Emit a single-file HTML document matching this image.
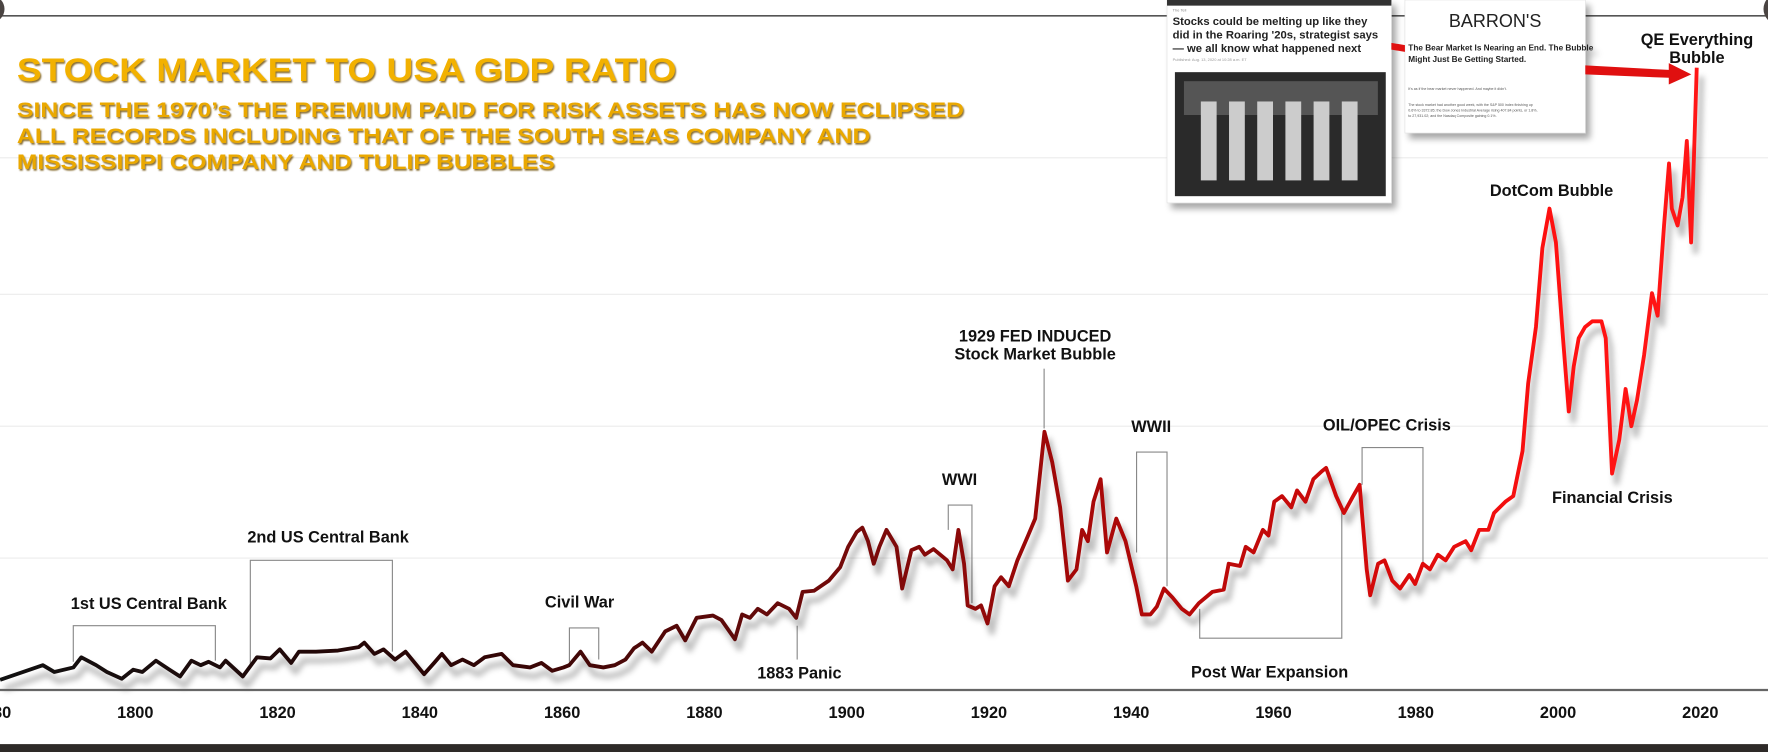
<!DOCTYPE html>
<html><head><meta charset="utf-8">
<style>
html,body{margin:0;padding:0;background:#fff;}
svg{display:block;}
text{font-family:"Liberation Sans",sans-serif;}
</style></head>
<body>
<svg id="chart" width="1768" height="752" viewBox="0 0 1568 667" preserveAspectRatio="none">
<defs>
<linearGradient id="lineGrad" gradientUnits="userSpaceOnUse" x1="0" y1="0" x2="1568" y2="0">
<stop offset="0" stop-color="#111"/>
<stop offset="0.25" stop-color="#2a0505"/>
<stop offset="0.45" stop-color="#6a0a0a"/>
<stop offset="0.62" stop-color="#a80808"/>
<stop offset="0.78" stop-color="#d40a0a"/>
<stop offset="0.88" stop-color="#ff1010"/>
<stop offset="1" stop-color="#ff1a1a"/>
</linearGradient>
<filter id="shadow" x="-5%" y="-5%" width="110%" height="120%">
<feGaussianBlur in="SourceAlpha" stdDeviation="3"/>
<feOffset dx="4" dy="5"/>
<feComponentTransfer><feFuncA type="linear" slope="0.35"/></feComponentTransfer>
<feMerge><feMergeNode/><feMergeNode in="SourceGraphic"/></feMerge>
</filter>
<filter id="lshadow" x="-5%" y="-10%" width="110%" height="130%"><feGaussianBlur stdDeviation="2.5"/></filter>
<filter id="tshadow"><feDropShadow dx="1" dy="1.5" stdDeviation="0.8" flood-color="#6b4a00" flood-opacity="0.8"/></filter>
</defs>
<rect x="0" y="0" width="1568" height="667" fill="#fff"/>
<g id="grid"></g>
<line x1="0" y1="14" x2="1568" y2="14" stroke="#555" stroke-width="1.5"/>
<circle cx="1578" cy="8" r="14" fill="#4a4442"/>
<circle cx="-8" cy="8" r="12" fill="#4a4442"/>

<g filter="url(#tshadow)">
<text x="15" y="72" font-size="29" font-weight="bold" fill="#f2b100" textLength="585" lengthAdjust="spacingAndGlyphs">STOCK MARKET TO USA GDP RATIO</text>
<text x="15" y="104" font-size="19" font-weight="bold" fill="#eaa800" textLength="840" lengthAdjust="spacingAndGlyphs">SINCE THE 1970’s THE PREMIUM PAID FOR RISK ASSETS HAS NOW ECLIPSED</text>
<text x="15" y="127" font-size="19" font-weight="bold" fill="#eaa800" textLength="757" lengthAdjust="spacingAndGlyphs">ALL RECORDS INCLUDING THAT OF THE SOUTH SEAS COMPANY AND</text>
<text x="15" y="150" font-size="19" font-weight="bold" fill="#eaa800" textLength="477" lengthAdjust="spacingAndGlyphs">MISSISSIPPI COMPANY AND TULIP BUBBLES</text>
</g>

<g id="brackets" fill="none" stroke="#888" stroke-width="1">
<polyline points="65,587 65,555 191,555 191,586"/>
<polyline points="222,590 222,497 348,497 348,578"/>
<polyline points="505,587 505,557 531,557 531,585"/>
<polyline points="707,555 707,585"/>
<polyline points="841,470 841,448 862,448 862,535"/>
<polyline points="926,327 926,380"/>
<polyline points="1008,490 1008,401 1035,401 1035,520"/>
<polyline points="1208,430 1208,397 1262,397 1262,500"/>
<polyline points="1064,540 1064,566 1190,566 1190,450"/>
</g>

<g font-size="14.5" font-weight="bold" fill="#111" text-anchor="middle">
<text x="132" y="540">1st US Central Bank</text>
<text x="291" y="481">2nd US Central Bank</text>
<text x="514" y="539">Civil War</text>
<text x="709" y="602">1883 Panic</text>
<text x="851" y="430">WWI</text>
<text x="918" y="303">1929 FED INDUCED</text>
<text x="918" y="319">Stock Market Bubble</text>
<text x="1021" y="383">WWII</text>
<text x="1230" y="382">OIL/OPEC Crisis</text>
<text x="1126" y="601">Post War Expansion</text>
<text x="1376" y="174">DotCom Bubble</text>
<text x="1430" y="446">Financial Crisis</text>
<text x="1505" y="40">QE Everything</text>
<text x="1505" y="56">Bubble</text>
</g>

<g id="series"></g>

<line x1="0" y1="612" x2="1568" y2="612" stroke="#666" stroke-width="2"/>
<g id="xticks" font-size="14.5" font-weight="bold" fill="#111" text-anchor="middle"></g>
<rect x="0" y="660" width="1568" height="8" fill="#2e2a28"/>

<g filter="url(#shadow)">
<rect x="1035" y="0" width="199" height="180" fill="#fff" stroke="#ddd" stroke-width="0.5"/>
<rect x="1035" y="0" width="199" height="5" fill="#333"/>
<text x="1040" y="10" font-size="3.5" fill="#888">The Tell</text>
<text x="1040" y="22" font-size="10" font-weight="bold" fill="#222">Stocks could be melting up like they</text>
<text x="1040" y="34" font-size="10" font-weight="bold" fill="#222">did in the Roaring '20s, strategist says</text>
<text x="1040" y="46" font-size="10" font-weight="bold" fill="#222">— we all know what happened next</text>
<text x="1040" y="54" font-size="3.5" fill="#999">Published: Aug. 13, 2020 at 10:28 a.m. ET</text>
<rect x="1042" y="64" width="187" height="110" fill="#2a2a2a"/>
<rect x="1050" y="72" width="172" height="30" fill="#555"/>
<g fill="#ccc">
<rect x="1065" y="90" width="14" height="70"/><rect x="1090" y="90" width="14" height="70"/><rect x="1115" y="90" width="14" height="70"/>
<rect x="1140" y="90" width="14" height="70"/><rect x="1165" y="90" width="14" height="70"/><rect x="1190" y="90" width="14" height="70"/>
</g>
</g>
<g filter="url(#shadow)">
<rect x="1246" y="0" width="160" height="118" fill="#fff" stroke="#ddd" stroke-width="0.5"/>
<text x="1326" y="24" font-size="16" fill="#222" text-anchor="middle" font-family="Liberation Serif,serif">BARRON'S</text>
<text x="1249" y="45" font-size="7.3" font-weight="bold" fill="#222" font-family="Liberation Serif,serif">The Bear Market Is Nearing an End. The Bubble</text>
<text x="1249" y="55" font-size="7.3" font-weight="bold" fill="#222" font-family="Liberation Serif,serif">Might Just Be Getting Started.</text>
<text x="1249" y="80" font-size="3.2" fill="#555">It's as if the bear market never happened. And maybe it didn't.</text>
<text x="1249" y="94" font-size="3.2" fill="#555">The stock market had another good week, with the S&amp;P 500 index finishing up</text>
<text x="1249" y="99" font-size="3.2" fill="#555">0.6% to 3372.85; the Dow Jones Industrial Average rising 407.84 points, or 1.8%,</text>
<text x="1249" y="104" font-size="3.2" fill="#555">to 27,931.02; and the Nasdaq Composite gaining 0.1%.</text>
</g>
<g>
<polygon points="1234,38 1246,40 1246,46 1234,44" fill="#e01010"/>
<polygon points="1406,58 1480,62 1480,56 1500,66 1480,75 1480,69 1406,66" fill="#e01010"/>
</g>
</svg>
<script>
const years = [1781.0,1787.0,1788.6,1791.3,1792.4,1794.5,1796.0,1798.1,1799.7,1801.0,1802.9,1804.8,1806.3,1807.9,1809.2,1810.3,1811.9,1812.7,1815.1,1817.1,1819.0,1820.3,1821.9,1823.0,1825.4,1828.5,1831.4,1832.2,1833.6,1834.9,1836.5,1838.0,1840.6,1842.0,1843.1,1844.4,1846.0,1847.6,1849.1,1851.5,1853.1,1855.5,1857.1,1858.6,1860.2,1861.0,1862.6,1863.9,1865.8,1867.4,1868.9,1870.1,1871.3,1872.6,1874.5,1876.1,1877.3,1878.9,1881.2,1882.4,1884.3,1885.3,1886.4,1887.5,1888.8,1890.3,1891.9,1892.9,1893.8,1895.4,1897.5,1899.1,1900.2,1901.4,1902.2,1903.0,1903.8,1904.6,1905.6,1907.0,1907.8,1909.1,1910.2,1911.0,1912.2,1914.1,1914.9,1915.7,1916.5,1917.0,1918.1,1918.9,1919.8,1920.8,1921.7,1922.8,1924.0,1925.5,1926.5,1927.8,1928.9,1930.0,1931.1,1932.3,1933.1,1933.9,1934.7,1935.7,1936.6,1937.9,1939.2,1940.7,1941.5,1942.7,1943.6,1944.6,1945.8,1947.1,1948.2,1949.5,1951.4,1953.0,1953.7,1955.3,1956.1,1957.2,1958.5,1959.3,1960.1,1961.2,1962.5,1963.3,1964.5,1965.6,1966.8,1967.4,1968.8,1969.9,1971.2,1972.1,1973.1,1973.6,1974.7,1975.6,1976.7,1977.8,1979.1,1979.9,1981.0,1982.0,1983.1,1984.2,1985.4,1987.0,1987.8,1988.9,1990.2,1991.0,1992.6,1993.7,1995.0,1995.8,1996.9,1997.8,1998.8,1999.7,2000.7,2001.5,2002.2,2002.9,2003.8,2004.8,2006.1,2006.7,2007.6,2008.6,2009.5,2010.3,2011.1,2012.1,2013.2,2014.0,2014.9,2015.6,2016.0,2016.8,2017.5,2018.1,2018.7,2019.1,2019.5];
const ratioValues = [9,22,16,20,29,22,16,10,18,16,26,18,12,26,22,25,20,26,12,29,28,36,24,34,34,35,38,42,32,36,27,34,14,24,32,22,27,22,29,32,22,20,24,17,20,22,34,22,20,22,27,37,42,34,52,57,44,64,66,62,45,67,64,72,67,77,72,64,87,88,97,109,127,140,144,132,112,127,142,127,90,124,127,120,125,115,107,142,112,75,72,75,59,92,100,92,115,137,152,229,202,162,97,107,142,132,167,187,122,152,132,92,67,67,74,90,82,72,67,77,87,89,112,110,127,122,142,137,167,172,162,177,167,187,194,197,172,157,172,182,107,84,112,115,97,90,102,94,112,107,120,115,127,132,124,142,142,157,167,172,212,272,322,392,427,397,312,247,287,312,322,327,327,312,192,222,267,234,257,297,352,332,412,467,427,412,437,487,397,472,552];
const tickYears = [1780,1800,1820,1840,1860,1880,1900,1920,1940,1960,1980,2000,2020];
const tickLabels = ["1780","1800","1820","1840","1860","1880","1900","1920","1940","1960","1980","2000","2020"];
const gridValues = [117,234,351,472];

const NS = "http://www.w3.org/2000/svg";
function xScale(yr){ return 120 + (yr - 1800) * 6.309; }
function yScale(v){ return 612 - v; }

const grid = document.getElementById('grid');
gridValues.forEach(function(g){
  const l = document.createElementNS(NS,'line');
  l.setAttribute('x1',0); l.setAttribute('x2',1568);
  l.setAttribute('y1',yScale(g)); l.setAttribute('y2',yScale(g));
  l.setAttribute('stroke','#ececec'); l.setAttribute('stroke-width','1');
  
  
  grid.appendChild(l);
});

const xt = document.getElementById('xticks');
tickYears.forEach(function(t,i){
  const tx = document.createElementNS(NS,'text');
  tx.setAttribute('x', xScale(t)); tx.setAttribute('y', 637);
  tx.textContent = tickLabels[i];
  
  
  xt.appendChild(tx);
});

let d = '';
const n = Math.min(years.length, ratioValues.length);
for (let i = 0; i < n; i++) {
  d += (i ? 'L' : 'M') + xScale(years[i]).toFixed(1) + ',' + yScale(ratioValues[i]).toFixed(1);
}
const s = document.getElementById('series');
const shadowPath = document.createElementNS(NS,'path');
shadowPath.setAttribute('d', d);
shadowPath.setAttribute('fill','none');
shadowPath.setAttribute('stroke','rgba(0,0,0,0.25)');
shadowPath.setAttribute('stroke-width','5');
shadowPath.setAttribute('stroke-linejoin','round');
shadowPath.setAttribute('filter','url(#lshadow)');
shadowPath.setAttribute('transform','translate(4,8)');


s.appendChild(shadowPath);
const p = document.createElementNS(NS,'path');
p.setAttribute('d', d);
p.setAttribute('fill','none');
p.setAttribute('stroke','url(#lineGrad)');
p.setAttribute('stroke-width','3.4');
p.setAttribute('stroke-linejoin','round');


s.appendChild(p);
</script>
</body></html>
